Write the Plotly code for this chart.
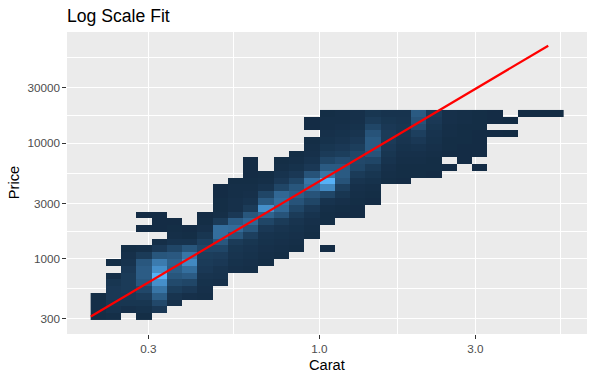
import math
import plotly.graph_objects as go

# ---------------- data ----------------
carat_range = [0.2, 5.01]        # data range of carat (log10 binned)
price_range = [326, 18823]       # data range of price (log10 binned)
n_bins = 30

# 2d-bin counts, one list per carat column (left -> right);
# each list starts at row index col_start_row[c] (bottom = 0) and goes upward
col_start_row = [0, 0, 1, 0, 1, 2, 3, 3, 5, 7, 7, 8, 9, 10, 12, 10,
                 15, 15, 17, 20, 20, 21, 21, 22, 23, 22, 27, 27, 30, 30, 30]
col_counts = [
    [20, 30, 30, 20],
    [30, 60, 80, 100, 100, 80, 30, 0, 20],
    [40, 80, 100, 120, 120, 120, 100, 60, 40, 20],
    [20, 50, 80, 130, 210, 330, 370, 370, 330, 120, 30, 0, 0, 10, 0, 10],
    [100, 220, 380, 550, 750, 1000, 750, 600, 320, 100, 30, 0, 10, 10, 10],
    [40, 70, 140, 230, 320, 380, 400, 340, 200, 60, 30, 20, 10],
    [40, 100, 200, 360, 500, 700, 550, 320, 60, 20, 10],
    [30, 40, 50, 70, 100, 120, 140, 200, 150, 80, 40, 20, 10],
    [40, 60, 70, 100, 130, 200, 330, 500, 500, 120, 30, 20, 20, 10, 10],
    [40, 50, 70, 80, 120, 320, 480, 370, 100, 40, 40, 30, 30, 20],
    [30, 40, 50, 60, 80, 150, 320, 450, 320, 120, 60, 40, 30, 20, 10, 10, 10],
    [20, 30, 40, 50, 60, 100, 200, 420, 750, 350, 200, 60, 30, 20],
    [20, 30, 40, 50, 70, 120, 300, 450, 500, 450, 200, 100, 60, 30, 20],
    [20, 30, 40, 50, 70, 120, 200, 300, 380, 320, 200, 100, 50, 30, 20],
    [20, 30, 40, 60, 100, 200, 300, 500, 550, 300, 100, 60, 40, 30, 20, 0, 10, 10],
    [10, 0, 0, 0, 20, 20, 30, 60, 200, 700, 1000, 550, 350, 200, 120, 80, 50, 40, 30, 30, 20],
    [10, 20, 40, 80, 150, 300, 350, 350, 250, 140, 100, 70, 50, 40, 30, 30],
    [10, 10, 20, 30, 40, 70, 120, 200, 220, 200, 140, 100, 70, 50, 40, 40],
    [10, 20, 30, 50, 80, 120, 200, 300, 350, 350, 300, 200, 120, 80],
    [20, 30, 40, 60, 80, 100, 120, 120, 100, 80, 60],
    [10, 20, 20, 30, 40, 50, 70, 80, 80, 70, 60],
    [20, 20, 30, 40, 60, 100, 150, 250, 300, 350],
    [10, 20, 20, 30, 40, 50, 60, 80, 100, 120],
    [10, 0, 10, 20, 20, 30, 30, 40, 40],
    [10, 10, 10, 20, 20, 20, 30, 30],
    [10, 0, 10, 10, 10, 10, 20, 20, 20],
    [10, 0, 10, 10],
    [5, 0, 5],
    [5],
    [5],
    [5],
]

# linear fit of log10(price) on log10(carat)
fit_intercept = 3.6694
fit_slope = 1.6758

x_ticks = [0.3, 1.0, 3.0]
x_tick_text = ["0.3", "1.0", "3.0"]
y_ticks = [300, 1000, 3000, 10000, 30000]
y_tick_text = ["300", "1000", "3000", "10000", "30000"]

# ---------------- binning (as ggplot2 bin2d) ----------------
def bin_breaks(rng, bins):
    lo, hi = math.log10(rng[0]), math.log10(rng[1])
    bw = (hi - lo) / bins
    origin = math.floor(lo / bw) * bw
    br = []
    k = 0
    while origin + k * bw <= hi + bw + 1e-12:
        br.append(origin + k * bw)
        k += 1
    return br

xb = bin_breaks(carat_range, n_bins)
yb = bin_breaks(price_range, n_bins)
x_centers = [(xb[i] + xb[i + 1]) / 2 for i in range(len(xb) - 1)]
y_centers = [(yb[i] + yb[i + 1]) / 2 for i in range(len(yb) - 1)]

z = [[None] * len(x_centers) for _ in y_centers]
for c, (s, arr) in enumerate(zip(col_start_row, col_counts)):
    for i, v in enumerate(arr):
        if v > 0:
            z[s + i][c] = v
zmax = max(max(a) for a in col_counts)

fit_x = [math.log10(carat_range[0]), math.log10(carat_range[1])]
fit_y = [fit_intercept + fit_slope * v for v in fit_x]

# ranges with 5% expansion
x_lo, x_hi = min(xb[0], fit_x[0]), max(xb[-1], fit_x[1])
y_lo, y_hi = min(yb[0], min(fit_y)), max(yb[-1], max(fit_y))
ex = 0.05 * (x_hi - x_lo)
ey = 0.05 * (y_hi - y_lo)

def minor_vals(ticks, lo, hi):
    lt = [math.log10(t) for t in ticks]
    d = lt[1] - lt[0]
    ext = [lt[0] - d] + lt + [lt[-1] + d]
    mids = [(ext[i] + ext[i + 1]) / 2 for i in range(len(ext) - 1)]
    return [m for m in mids if lo <= m <= hi]

FONT = "Liberation Sans, Arial, sans-serif"

fig = go.Figure()
fig.add_trace(go.Heatmap(
    x=x_centers, y=y_centers, z=z,
    colorscale=[[0, "#132B43"], [1, "#56B1F7"]],
    zmin=1, zmax=zmax, showscale=False, hoverinfo="skip",
))
fig.add_trace(go.Scatter(
    x=fit_x, y=fit_y, mode="lines",
    line=dict(color="#FF0000", width=2.2), showlegend=False, hoverinfo="skip",
))

axis_common = dict(
    ticks="outside", ticklen=3.7, tickwidth=1.07, tickcolor="#333333",
    showgrid=True, gridcolor="#FFFFFF", gridwidth=1.4,
    zeroline=False, showline=False,
    tickfont=dict(family=FONT, size=11.7, color="#4D4D4D"),
)

fig.update_xaxes(
    range=[x_lo - ex, x_hi + ex],
    tickvals=[math.log10(v) for v in x_ticks], ticktext=x_tick_text,
    minor=dict(tickvals=minor_vals(x_ticks, x_lo - ex, x_hi + ex),
               showgrid=True, gridcolor="#FFFFFF", gridwidth=0.7),
    **axis_common,
)
fig.update_yaxes(
    range=[y_lo - ey, y_hi + ey],
    tickvals=[math.log10(v) for v in y_ticks], ticktext=y_tick_text,
    minor=dict(tickvals=minor_vals(y_ticks, y_lo - ey, y_hi + ey),
               showgrid=True, gridcolor="#FFFFFF", gridwidth=0.7),
    **axis_common,
)

fig.update_layout(
    width=595, height=380,
    margin=dict(l=67, r=8, t=32, b=46, autoexpand=False),
    paper_bgcolor="#FFFFFF", plot_bgcolor="#EBEBEB",
    showlegend=False,
    title=dict(text="Log Scale Fit", x=0, xref="paper", xanchor="left",
               y=1 - 16.3 / 380, yref="container", yanchor="middle",
               font=dict(family=FONT, size=17.6, color="#000000")),
    annotations=[
        dict(text="Carat", x=0.5, xref="paper", y=(334 - 365.3) / 302, yref="paper",
             xanchor="center", yanchor="middle", showarrow=False,
             font=dict(family=FONT, size=14.67, color="#000000")),
        dict(text="Price", x=(14.2 - 67) / 520, xref="paper", y=0.5, yref="paper",
             xanchor="center", yanchor="middle", textangle=-90, showarrow=False,
             font=dict(family=FONT, size=14.67, color="#000000")),
    ],
)

fig.write_html("out.html", config={"displayModeBar": False},
               post_script="document.body.style.margin='0';")
